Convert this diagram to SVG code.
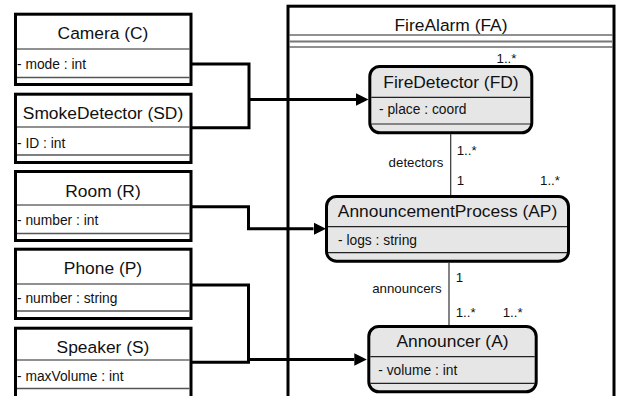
<svg xmlns="http://www.w3.org/2000/svg" width="620" height="396" viewBox="0 0 620 396">
<style>
.box{fill:#fff;stroke:#000;stroke-width:3}
.cls{fill:#e6e6e6;stroke:#000;stroke-width:3}
.sep{stroke:#222;stroke-width:1.2}
.sep2{stroke:#555;stroke-width:1.6}
.title{font-family:"Liberation Sans",Arial,sans-serif;font-size:17.4px;fill:#111;text-anchor:middle}
.attr{font-family:"Liberation Sans",Arial,sans-serif;font-size:13.8px;fill:#111}
.lbl{font-family:"Liberation Sans",Arial,sans-serif;font-size:13.3px;fill:#111}
.end{text-anchor:end}
.conn{fill:none;stroke:#000;stroke-width:3}
.assoc{fill:none;stroke:#333;stroke-width:1.2}
</style>
<defs>
<marker id="arr" markerUnits="userSpaceOnUse" markerWidth="13" markerHeight="13" refX="0" refY="6.3" orient="auto">
<path d="M0,0 L12.5,6.3 L0,12.6 z" fill="#000"/>
</marker>
</defs>

<g id="FA">
<rect x="288" y="6.2" width="326" height="400" fill="#fff" stroke="#000" stroke-width="3"/>
<text class="title" x="451" y="31">FireAlarm (FA)</text>
<line class="sep" x1="289.5" y1="35" x2="612.5" y2="35"/>
<line x1="289.5" y1="41.5" x2="612.5" y2="41.5" stroke="#777" stroke-width="2"/>
<line class="sep" x1="289.5" y1="47" x2="612.5" y2="47"/>
</g>

<g id="C">
<rect class="box" x="15.5" y="14.2" width="175.5" height="70.3"/>
<text class="title" x="103" y="39">Camera (C)</text>
<line class="sep" x1="17" y1="49" x2="189.5" y2="49"/>
<text class="attr" x="17" y="69">- mode : int</text>
<line class="sep2" x1="17" y1="77.5" x2="189.5" y2="77.5"/>
</g>

<g id="SD">
<rect class="box" x="15.5" y="94.2" width="175.5" height="68.3"/>
<text class="title" x="103" y="119">SmokeDetector (SD)</text>
<line class="sep" x1="17" y1="127" x2="189.5" y2="127"/>
<text class="attr" x="17" y="147.5">- ID : int</text>
<line class="sep2" x1="17" y1="155" x2="189.5" y2="155"/>
</g>

<g id="R">
<rect class="box" x="15.5" y="171.5" width="175.5" height="69"/>
<text class="title" x="103" y="196.5">Room (R)</text>
<line class="sep" x1="17" y1="205" x2="189.5" y2="205"/>
<text class="attr" x="17" y="225">- number : int</text>
<line class="sep2" x1="17" y1="233.5" x2="189.5" y2="233.5"/>
</g>

<g id="P">
<rect class="box" x="15.5" y="249.2" width="175.5" height="69.3"/>
<text class="title" x="103" y="274">Phone (P)</text>
<line class="sep" x1="17" y1="284" x2="189.5" y2="284"/>
<text class="attr" x="17" y="302.5">- number : string</text>
<line class="sep2" x1="17" y1="311" x2="189.5" y2="311"/>
</g>

<g id="S">
<rect class="box" x="15.5" y="328.2" width="175.5" height="80"/>
<text class="title" x="103" y="353">Speaker (S)</text>
<line class="sep" x1="17" y1="360" x2="189.5" y2="360"/>
<text class="attr" x="17" y="380.5">- maxVolume : int</text>
<line class="sep2" x1="17" y1="388.5" x2="189.5" y2="388.5"/>
</g>

<g id="FD">
<rect class="cls" x="369.8" y="66.5" width="162" height="66.3" rx="10"/>
<text class="title" x="451" y="87.5">FireDetector (FD)</text>
<line class="sep" x1="371.3" y1="97.3" x2="530.3" y2="97.3"/>
<text class="attr" x="379" y="113.5">- place : coord</text>
<line class="sep" x1="371.3" y1="124" x2="530.3" y2="124"/>
</g>

<g id="AP">
<rect class="cls" x="326.5" y="196.5" width="242" height="64.7" rx="10"/>
<text class="title" x="447.5" y="216.7">AnnouncementProcess (AP)</text>
<line class="sep" x1="328" y1="226.7" x2="567" y2="226.7"/>
<text class="attr" x="338" y="244.5">- logs : string</text>
<line class="sep" x1="328" y1="252.7" x2="567" y2="252.7"/>
</g>

<g id="A">
<rect class="cls" x="368.8" y="326.5" width="167.4" height="65.3" rx="10"/>
<text class="title" x="452.5" y="346.7">Announcer (A)</text>
<line class="sep" x1="370.3" y1="356.7" x2="534.7" y2="356.7"/>
<text class="attr" x="378.3" y="374.5">- volume : int</text>
<line class="sep" x1="370.3" y1="383.3" x2="534.7" y2="383.3"/>
</g>

<g id="connectors">
<path class="conn" d="M192,64 H249 V127.7 H192"/>
<path class="conn" d="M249,99.5 H356" marker-end="url(#arr)"/>
<path class="conn" d="M192,206.7 H248.5 V228.7 H313.5" marker-end="url(#arr)"/>
<path class="conn" d="M192,285 H248.5 V362.3 H192"/>
<path class="conn" d="M248.5,359.5 H354.3" marker-end="url(#arr)"/>
<line class="assoc" x1="450.7" y1="134" x2="450.7" y2="195"/>
<line class="assoc" x1="449" y1="262.7" x2="449" y2="325"/>
<text class="lbl" x="496.5" y="62.7">1..*</text>
<text class="lbl" x="456.7" y="155">1..*</text>
<text class="lbl end" x="443.3" y="166.7">detectors</text>
<text class="lbl" x="456.7" y="185">1</text>
<text class="lbl" x="540" y="185">1..*</text>
<text class="lbl" x="455.7" y="281.7">1</text>
<text class="lbl end" x="441.7" y="293.3">announcers</text>
<text class="lbl" x="455.7" y="317.3">1..*</text>
<text class="lbl" x="502.7" y="317.3">1..*</text>
</g>
</svg>
